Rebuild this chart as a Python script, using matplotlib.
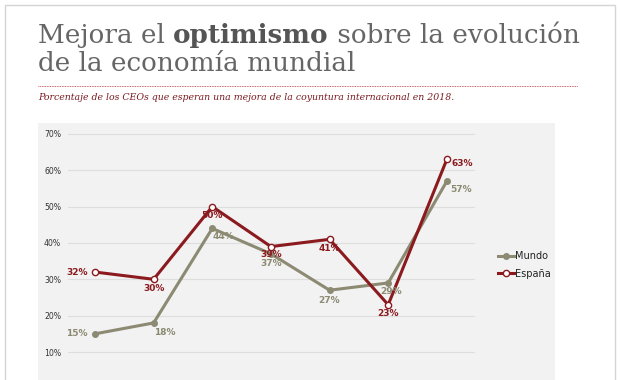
import matplotlib
matplotlib.use("Agg")
import matplotlib.pyplot as plt
from matplotlib.patches import Rectangle
from matplotlib.lines import Line2D

categories = ["1", "2", "3", "4", "5", "6", "7"]
mundo = [15, 18, 44, 37, 27, 29, 57]
espana = [32, 30, 50, 39, 41, 23, 63]
yticks = [10, 20, 30, 40, 50, 60, 70]

W, H = 620, 380
fig = plt.figure(figsize=(W / 100, H / 100), dpi=100)
fig.patch.set_facecolor("white")

def fx(px):
    return px / W

def fy(py):
    return 1 - py / H

# outer border
fig.add_artist(Rectangle((fx(5), fy(400)), fx(610), (400 - 5) / H, transform=fig.transFigure,
                         facecolor="none", edgecolor="#d4d4d4", lw=1, zorder=-2))
# plot background
fig.add_artist(Rectangle((fx(38), fy(380)), fx(555 - 38), (380 - 123) / H, transform=fig.transFigure,
                         facecolor="#f2f2f2", edgecolor="none", zorder=-1))

# title
parts = [("Mejora el ", "normal"), ("optimismo", "bold"), (" sobre la evolución", "normal")]
renderer = fig.canvas.get_renderer()
x = 38
for s, w in parts:
    t = fig.text(fx(x), fy(43), s, fontsize=18.9, family="DejaVu Serif", fontweight=w,
                 color="#666666" if w == "normal" else "#555555", va="baseline")
    bb = t.get_window_extent(renderer=renderer)
    x += bb.width
fig.text(fx(38), fy(71), "de la economía mundial", fontsize=18.9, family="DejaVu Serif",
         color="#666666", va="baseline")

# dotted separator
fig.add_artist(Line2D([fx(38), fx(578)], [fy(86), fy(86)], transform=fig.transFigure,
                      color="#b03030", lw=0.6, ls=(0, (1, 1))))
fig.text(fx(38), fy(100), "Porcentaje de los CEOs que esperan una mejora de la coyuntura internacional en 2018.",
         fontsize=6.75, family="DejaVu Serif", style="italic", color="#7a1a1f", va="baseline")

ax = fig.add_axes([fx(68), fy(380), fx(475 - 68), (380 - 123) / H])
ax.set_zorder(1)
ax.set_facecolor("none")
xs = list(range(len(categories)))
ax.set_xlim(-0.46, 6.48)
ax.set_ylim(2.3, 73.0)
ax.set_yticks(yticks)
ax.set_yticklabels([f"{v}%" for v in yticks])
ax.tick_params(axis="y", length=0, pad=5, labelsize=5.6, labelcolor="#333333")
ax.set_xticks([])
for sp in ax.spines.values():
    sp.set_visible(False)
ax.grid(axis="y", color="#dedede", lw=0.8)
ax.set_axisbelow(True)

c_m = "#8c8a72"
c_e = "#8b1a1f"
ax.plot(xs, mundo, color=c_m, lw=2.2, marker="o", ms=4, mfc=c_m, mec=c_m, label="Mundo", zorder=3)
ax.plot(xs, espana, color=c_e, lw=2.2, marker="o", ms=4.5, mfc="white", mec=c_e, mew=1, label="España", zorder=4)

m_off = [(-0.12, 0, "right", "center"), (0.0, -1.5, "left", "top"), (0.0, -1.0, "left", "top"),
         (0.0, -1.5, "center", "top"), (0.0, -1.5, "center", "top"), (0.05, -1.0, "center", "top"),
         (0.05, -1.0, "left", "top")]
e_off = [(-0.12, 0, "right", "center"), (0.0, -1.3, "center", "top"), (0.0, -1.2, "center", "top"),
         (0.0, -0.8, "center", "top"), (0.0, -1.3, "center", "top"), (0.0, -1.3, "center", "top"),
         (0.08, 0, "left", "top")]
for i, v in enumerate(mundo):
    dx, dy, ha, va = m_off[i]
    ax.text(i + dx, v + dy, f"{v}%", color=c_m, fontsize=6.5, fontweight="bold", ha=ha, va=va, zorder=5)
for i, v in enumerate(espana):
    dx, dy, ha, va = e_off[i]
    ax.text(i + dx, v + dy, f"{v}%", color=c_e, fontsize=6.5, fontweight="bold", ha=ha, va=va, zorder=5)

leg = fig.legend(loc="center left", bbox_to_anchor=(fx(493), fy(265)), frameon=False, fontsize=7,
                 handlelength=1.7, handletextpad=0.1, labelspacing=0.75, borderpad=0)
for txt in leg.get_texts():
    txt.set_color("#222222")

fig.savefig("out.png", dpi=100)
